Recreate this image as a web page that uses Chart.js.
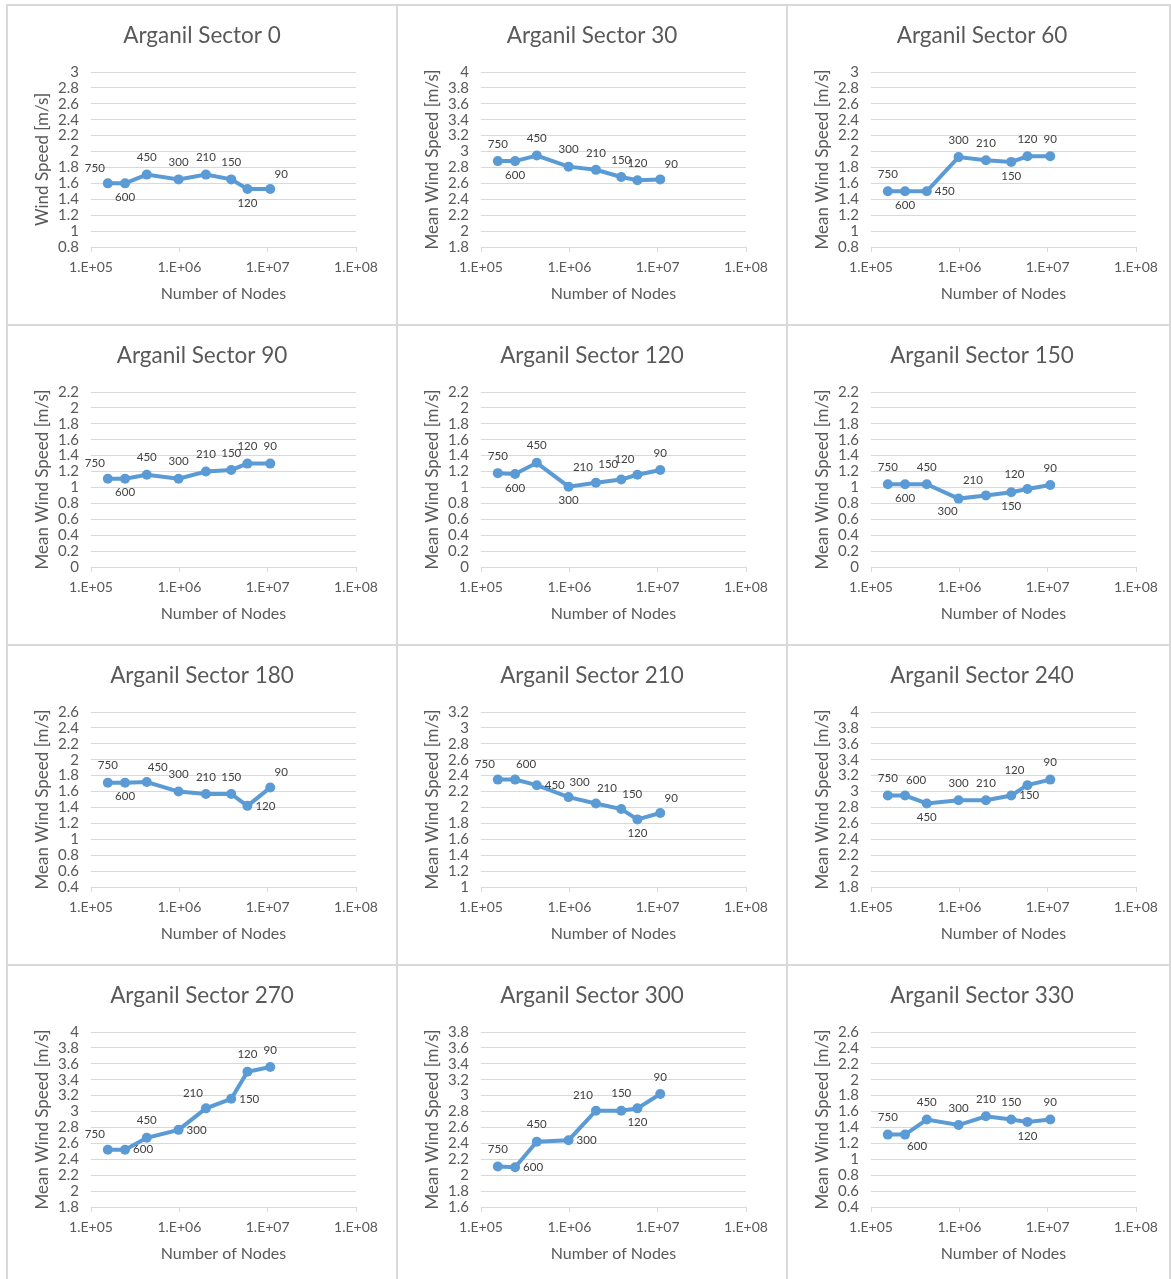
<!DOCTYPE html>
<html>
<head>
<meta charset="utf-8">
<script src="https://cdn.jsdelivr.net/npm/chart.js@4.4.1/dist/chart.umd.min.js"></script>
<style>
  html, body { margin: 0; padding: 0; background: #fff; overflow: hidden; }
  body { width: 1171px; height: 1279px; position: relative; }
  .cell { position: absolute; width: 390px; height: 320px; }
  .cell canvas { position: absolute; left: 0; top: 0; }
  .hline, .vline { position: absolute; background: #d9d9d9; }
  .hline { height: 2px; left: 6px; width: 1165px; }
  .vline { width: 2px; top: 4px; height: 1275px; }
</style>
</head>
<body>
<div id="grid"></div>
<script>
// number of mesh nodes for each horizontal resolution (same in all sectors)
const nodes = [155000, 243000, 428000, 980000, 2000000, 3870000, 5900000, 10700000];
const resolutions = ['750', '600', '450', '300', '210', '150', '120', '90'];

const sectors = [0, 30, 60, 90, 120, 150, 180, 210, 240, 270, 300, 330];

// mean wind speed [m/s]
const sector0   = [1.60, 1.60, 1.71, 1.65, 1.71, 1.65, 1.53, 1.53];
const sector30  = [2.88, 2.88, 2.95, 2.81, 2.77, 2.68, 2.64, 2.65];
const sector60  = [1.50, 1.50, 1.50, 1.93, 1.89, 1.87, 1.94, 1.94];
const sector90  = [1.11, 1.11, 1.16, 1.11, 1.20, 1.22, 1.30, 1.30];
const sector120 = [1.18, 1.17, 1.31, 1.01, 1.06, 1.10, 1.16, 1.22];
const sector150 = [1.04, 1.04, 1.04, 0.86, 0.90, 0.94, 0.98, 1.03];
const sector180 = [1.71, 1.71, 1.72, 1.60, 1.57, 1.57, 1.42, 1.65];
const sector210 = [2.35, 2.35, 2.28, 2.13, 2.05, 1.98, 1.85, 1.93];
const sector240 = [2.95, 2.95, 2.85, 2.89, 2.89, 2.95, 3.08, 3.15];
const sector270 = [2.52, 2.52, 2.67, 2.77, 3.04, 3.16, 3.50, 3.56];
const sector300 = [2.11, 2.10, 2.42, 2.44, 2.81, 2.81, 2.84, 3.02];
const sector330 = [1.31, 1.31, 1.50, 1.43, 1.54, 1.50, 1.47, 1.50];

const speeds = [sector0, sector30, sector60, sector90, sector120, sector150,
                sector180, sector210, sector240, sector270, sector300, sector330];

// y axis ranges
const yMins = [0.8, 1.8, 0.8, 0, 0, 0, 0.4, 1.0, 1.8, 1.8, 1.6, 0.4];
const yMaxs = [3.0, 4.0, 3.0, 2.2, 2.2, 2.2, 2.6, 3.2, 4.0, 4.0, 3.8, 2.6];

const yTitles = ['Wind Speed [m/s]'].concat(Array(11).fill('Mean Wind Speed [m/s]'));

// where each data label sits relative to its point
const labelPos = [
  ['TL', 'B', 'T', 'T', 'T', 'T', 'B', 'TR'],
  ['T', 'B', 'T', 'T', 'T', 'T', 'T', 'TR'],
  ['T', 'B', 'R', 'T', 'T', 'B', 'T', 'T'],
  ['TL', 'B', 'T', 'T', 'T', 'T', 'T', 'T'],
  ['T', 'B', 'T', 'B', 'TL', 'TL', 'TL', 'T'],
  ['T', 'B', 'T', 'BL', 'TL', 'B', 'TL', 'T'],
  ['T', 'B', 'TR', 'T', 'T', 'T', 'R', 'TR'],
  ['TL', 'TR', 'R', 'TR', 'TR', 'TR', 'B', 'TR'],
  ['T', 'TR', 'B', 'T', 'T', 'R', 'TL', 'T'],
  ['TL', 'R', 'T', 'R', 'TL', 'R', 'T', 'T'],
  ['T', 'R', 'T', 'R', 'TL', 'T', 'B', 'T'],
  ['T', 'BR', 'T', 'T', 'T', 'T', 'B', 'T']
];

const OFFSETS = {
  T: [0, -17], B: [0, 14], R: [18, 0], L: [-18, 0],
  TL: [-13, -15], TR: [11, -15], BL: [-11, 13], BR: [12, 12]
};

const FONT = 'Lato, "Open Sans", sans-serif';
const GREY = '#595959';
const BLUE = '#5b9bd5';

const pointLabels = {
  id: 'pointLabels',
  afterDatasetsDraw(chart, args, opts) {
    const ctx = chart.ctx;
    const meta = chart.getDatasetMeta(0);
    ctx.save();
    ctx.font = '11.5px ' + FONT;
    ctx.fillStyle = '#404040';
    ctx.textAlign = 'center';
    ctx.textBaseline = 'middle';
    meta.data.forEach((pt, i) => {
      const off = OFFSETS[opts.pos[i]];
      ctx.fillText(resolutions[i], pt.x + off[0], pt.y + off[1]);
    });
    ctx.restore();
  }
};

const grid = document.getElementById('grid');
const CELL_W = 390, CELL_H = 320, X0 = 7, Y0 = 5;

// cell borders
[0, 1, 2, 3].forEach(r => {
  const l = document.createElement('div');
  l.className = 'hline';
  l.style.top = (Y0 - 1 + r * CELL_H) + 'px';
  grid.appendChild(l);
});
[0, 1, 2].forEach(c => {
  const l = document.createElement('div');
  l.className = 'vline';
  l.style.left = (X0 - 1 + c * CELL_W) + 'px';
  grid.appendChild(l);
});
const rl = document.createElement('div');
rl.className = 'vline';
rl.style.left = '1169px';
grid.appendChild(rl);

sectors.forEach((sector, k) => {
  const r = Math.floor(k / 3), c = k % 3;
  const cell = document.createElement('div');
  cell.className = 'cell';
  cell.style.left = (X0 + c * CELL_W) + 'px';
  cell.style.top = (Y0 + r * CELL_H) + 'px';
  const canvas = document.createElement('canvas');
  canvas.width = CELL_W;
  canvas.height = CELL_H;
  cell.appendChild(canvas);
  grid.appendChild(cell);

  const yMin = yMins[k], yMax = yMaxs[k];

  new Chart(canvas, {
    type: 'line',
    data: {
      datasets: [{
        data: nodes.map((n, i) => ({ x: n, y: speeds[k][i] })),
        borderColor: BLUE,
        backgroundColor: BLUE,
        borderWidth: 4,
        pointRadius: 5,
        pointBorderWidth: 0,
        tension: 0
      }]
    },
    options: {
      responsive: false,
      animation: false,
      events: [],
      layout: { padding: 0 },
      plugins: {
        legend: { display: false },
        tooltip: { enabled: false },
        title: {
          display: true,
          text: 'Arganil Sector ' + sector,
          color: GREY,
          font: { family: FONT, size: 22.5, weight: 'normal' },
          padding: { top: 17, bottom: 23 }
        },
        pointLabels: { pos: labelPos[k] }
      },
      scales: {
        x: {
          type: 'logarithmic',
          min: 1e5,
          max: 1e8,
          afterBuildTicks: s => { s.ticks = [1e5, 1e6, 1e7, 1e8].map(v => ({ value: v })); },
          afterFit: s => { s.height = 78; },
          grid: { drawOnChartArea: false, drawTicks: true, tickLength: 5, color: '#d9d9d9' },
          border: { color: '#d9d9d9', width: 1 },
          ticks: {
            autoSkip: false,
            maxRotation: 0,
            padding: 7,
            color: GREY,
            font: { family: FONT, size: 14 },
            callback: v => '1.E+' + String(Math.round(Math.log10(v))).padStart(2, '0')
          },
          title: {
            display: true,
            text: 'Number of Nodes',
            color: GREY,
            font: { family: FONT, size: 16 },
            padding: { top: 0, bottom: 22 }
          }
        },
        y: {
          min: yMin,
          max: yMax,
          afterBuildTicks: s => {
            const n = Math.round((yMax - yMin) / 0.2);
            s.ticks = Array.from({ length: n + 1 }, (_, i) => ({ value: +(yMin + i * 0.2).toFixed(1) }));
          },
          afterFit: s => { s.width = 84; },
          grid: { color: '#d9d9d9', drawTicks: false, lineWidth: 1 },
          border: { display: false },
          ticks: {
            autoSkip: false,
            padding: 12,
            color: GREY,
            font: { family: FONT, size: 15 },
            callback: v => String(+v.toFixed(1))
          },
          title: {
            display: true,
            text: yTitles[k],
            color: GREY,
            font: { family: FONT, size: 17 },
            padding: { top: 25, bottom: 0 }
          }
        },
        spacer: {
          position: 'right',
          display: true,
          afterFit: s => { s.width = 41; },
          grid: { display: false },
          border: { display: false },
          ticks: { display: false }
        }
      }
    },
    plugins: [pointLabels]
  });
});
</script>
</body>
</html>
